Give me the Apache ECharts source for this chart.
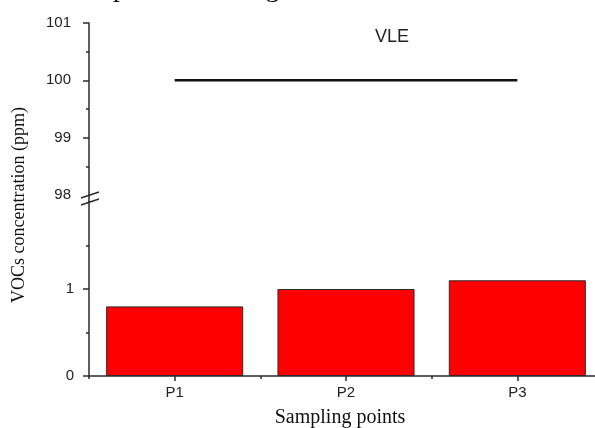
<!DOCTYPE html>
<html>
<head>
<meta charset="utf-8">
<script src="https://cdn.jsdelivr.net/npm/echarts@6/dist/echarts.min.js"></script>
<style>
  html, body { margin: 0; padding: 0; background: #fff; }
  #chart { width: 595px; height: 428px; }
</style>
</head>
<body>
<div id="chart"></div>
<script>
// categories and values
var categories = ['P1', 'P2', 'P3'];
var vocValues = [0.8, 1.0, 1.1];      // measured VOCs (ppm)
var vleValues = [100, 100, 100];      // VLE limit line
var topTicks = [98, 99, 100, 101];    // upper part of the broken axis
var bottomTicks = [0, 1];             // lower part of the broken axis

var chart = echarts.init(document.getElementById('chart'), null, { renderer: 'canvas' });

var axisColor = '#2b2b2b';
var sans = 'Liberation Sans, Arial, sans-serif';
var serif = 'Liberation Serif, Times New Roman, serif';
var tickStyle = { color: axisColor, width: 1.5 };

// axis x at 89, top part 101..98 at y 23..195, bottom part 2..0 at y 202..376
chart.setOption({
  backgroundColor: '#fff',
  animation: false,
  grid: [
    { left: 89, right: -8, top: 23, height: 172, outerBoundsMode: 'none', containLabel: false },
    { left: 89, right: -8, top: 202, height: 174, outerBoundsMode: 'none', containLabel: false }
  ],
  xAxis: [
    { // top part, only for the VLE line
      gridIndex: 0, type: 'category', data: categories,
      axisLine: { show: false }, axisTick: { show: false }, axisLabel: { show: false }
    },
    { // bottom part, labels and centre ticks
      gridIndex: 1, type: 'category', data: categories,
      axisLine: { show: true, lineStyle: tickStyle },
      axisTick: { show: true, alignWithLabel: true, length: 5, lineStyle: tickStyle },
      axisLabel: { color: '#222', fontFamily: sans, fontSize: 15, margin: 9 }
    },
    { // band-edge small ticks
      gridIndex: 1, type: 'category', data: categories, position: 'bottom',
      axisLine: { show: false }, axisLabel: { show: false },
      axisTick: { show: true, length: 3, lineStyle: tickStyle }
    }
  ],
  yAxis: [
    {
      gridIndex: 0, type: 'value', min: 98, max: 101, interval: 1,
      axisLine: { show: true, lineStyle: tickStyle },
      axisTick: { show: true, length: 6, lineStyle: tickStyle },
      minorTick: { show: true, splitNumber: 2, length: 3, lineStyle: tickStyle },
      axisLabel: { customValues: topTicks, color: '#222', fontFamily: sans, fontSize: 15, margin: 18 },
      splitLine: { show: false }
    },
    {
      gridIndex: 1, type: 'value', min: 0, max: 2, interval: 1,
      axisLine: { show: true, lineStyle: tickStyle },
      axisTick: { show: true, length: 6, lineStyle: tickStyle },
      minorTick: { show: true, splitNumber: 2, length: 3, lineStyle: tickStyle },
      axisLabel: { customValues: bottomTicks, color: '#222', fontFamily: sans, fontSize: 15, margin: 15 },
      splitLine: { show: false }
    }
  ],
  series: [
    {
      type: 'line', xAxisIndex: 0, yAxisIndex: 0, data: vleValues,
      symbol: 'none', lineStyle: { color: '#111', width: 2.5 }
    },
    {
      type: 'bar', xAxisIndex: 1, yAxisIndex: 1, data: vocValues,
      barWidth: '80%',
      itemStyle: { color: '#ff0000', borderColor: '#2b2b2b', borderWidth: 1 }
    }
  ],
  graphic: [
    // clipped text of the page above the figure
    { type: 'text', x: 12, y: 3, z: 100,
      style: { text: 'the two spaces, creating material used.', fill: '#111', font: '28px ' + serif, verticalAlign: 'bottom' } },
    { type: 'text', x: 392, y: 37, z: 100,
      style: { text: 'VLE', fill: '#222', font: '18px ' + sans, align: 'center', verticalAlign: 'middle' } },
    { type: 'text', x: 19, y: 205, rotation: Math.PI / 2, z: 100,
      style: { text: 'VOCs concentration (ppm)', fill: '#111', font: '18px ' + serif, align: 'center', verticalAlign: 'middle' } },
    { type: 'text', x: 340, y: 418, z: 100,
      style: { text: 'Sampling points', fill: '#111', font: '20px ' + serif, align: 'center', verticalAlign: 'middle' } },
    // hide the ticks under the break, then the axis line through the gap and the break marks
    { type: 'rect', z: 99, shape: { x: 78, y: 192, width: 10, height: 13 }, style: { fill: '#fff' } },
    { type: 'line', z: 100, shape: { x1: 89, y1: 195, x2: 89, y2: 202 }, style: { stroke: axisColor, lineWidth: 1.5 } },
    { type: 'line', z: 100, shape: { x1: 81, y1: 198, x2: 99, y2: 192 }, style: { stroke: axisColor, lineWidth: 1.5 } },
    { type: 'line', z: 100, shape: { x1: 81, y1: 205, x2: 99, y2: 199 }, style: { stroke: axisColor, lineWidth: 1.5 } }
  ]
});
</script>
</body>
</html>
